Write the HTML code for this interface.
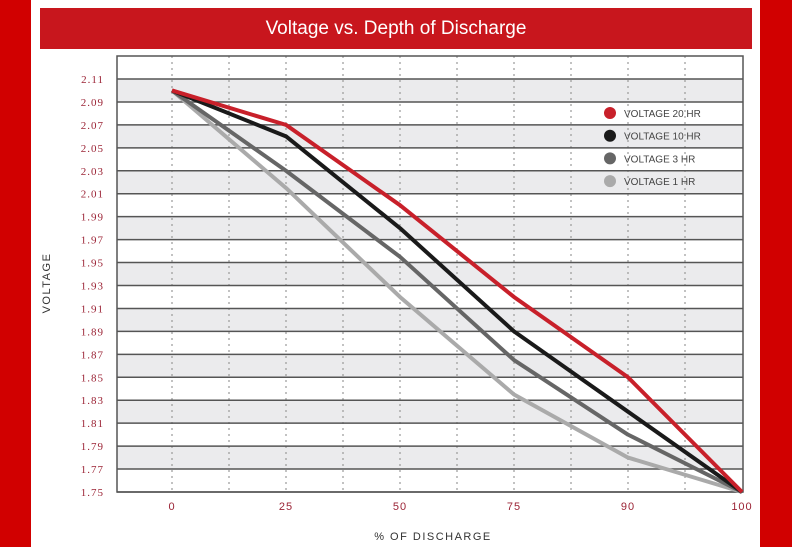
<!DOCTYPE html>
<html><head><meta charset="utf-8"><style>
html,body{margin:0;padding:0}
body{width:792px;height:547px;background:#fff;position:relative;overflow:hidden;font-family:"Liberation Sans",sans-serif}
</style></head><body>
<div style="position:absolute;left:0;top:0;width:31px;height:547px;background:#d10000"></div>
<div style="position:absolute;left:760px;top:0;width:32px;height:547px;background:#d10000"></div>
<div style="position:absolute;left:40px;top:8px;width:712px;height:41px;background:#c8161d;color:#fff;font-size:19px;line-height:41px;text-align:center">Voltage vs. Depth of Discharge</div>
<svg id="chart" width="792" height="547" style="position:absolute;left:0;top:0"></svg>
<script>
const categories=["0","25","50","75","90","100"];
const yTicks=["2.11","2.09","2.07","2.05","2.03","2.01","1.99","1.97","1.95","1.93","1.91","1.89","1.87","1.85","1.83","1.81","1.79","1.77","1.75"];
const seriesNames=["VOLTAGE 20 HR","VOLTAGE 10 HR","VOLTAGE 3 HR","VOLTAGE 1 HR"];
const v20=[2.10,2.07,2.00,1.92,1.85,1.75];
const v10=[2.10,2.06,1.98,1.89,1.82,1.75];
const v3=[2.10,2.03,1.955,1.865,1.80,1.75];
const v1=[2.10,2.015,1.92,1.835,1.78,1.75];
const colors=["#c8202a","#1a1a1a","#666666","#aaaaaa"];
const NS="http://www.w3.org/2000/svg";
const svg=document.getElementById('chart');
function mk(t,a,p){const e=document.createElementNS(NS,t);for(const k in a)e.setAttribute(k,a[k]);(p||svg).appendChild(e);return e;}
const L=117,R=743,T=56,B=492,yMin=1.75,yMax=2.11,yTop=79;
const x=i=>172+i*(742-172)/(categories.length-1);
const y=v=>B-(v-yMin)/(yMax-yMin)*(B-yTop);
// bands
for(let i=0;i<yTicks.length-1;i++){
  if(i%2===0){const r=mk('rect',{x:L,y:y(+yTicks[i]),width:R-L,height:y(+yTicks[i+1])-y(+yTicks[i]),fill:'#ebebed'});
  }
}
// vertical dotted
for(let k=0;k<=2*(categories.length-1)-1;k++){
  const xx=x(0)+k*(x(1)-x(0))/2;
  const l=mk('line',{x1:xx,x2:xx,y1:T,y2:B,stroke:'#999','stroke-width':1.2,'stroke-dasharray':'2,4'});
  
}
// horizontal lines + labels
yTicks.forEach(t=>{
  const yy=y(+t);
  const l=mk('line',{x1:L,x2:R,y1:yy,y2:yy,stroke:'#555','stroke-width':1.5});
  
  const tx=mk('text',{x:104,y:yy+4,'text-anchor':'end','font-size':11,fill:'#9b2335','font-family':'Liberation Serif, serif','letter-spacing':'1'});
  tx.textContent=t;
});
const fr=mk('rect',{x:L,y:T,width:R-L,height:B-T,fill:'none',stroke:'#555','stroke-width':1.5});

categories.forEach((c,i)=>{
  const tx=mk('text',{x:x(i),y:510,'text-anchor':'middle','font-size':11,fill:'#9b2335','letter-spacing':'1'});
  tx.textContent=c;
});
[v1,v3,v10,v20].forEach((s,j)=>{
  const ci=3-j;
  const p=mk('polyline',{points:s.map((v,i)=>x(i)+','+y(v)).join(' '),fill:'none',stroke:colors[ci],'stroke-width':4,'stroke-linejoin':'round'});
  
});
seriesNames.forEach((n,i)=>{
  const g=mk('g',{});
  const yy=113+i*22.7;
  mk('circle',{cx:610,cy:yy,r:6,fill:colors[i]},g);
  const t=mk('text',{x:624,y:yy+4,'font-size':10,fill:'#444'},g);t.textContent=n;
});
const yt=mk('text',{x:50,y:283,'text-anchor':'middle','font-size':11,fill:'#333','letter-spacing':'1.5',transform:'rotate(-90 50 283)'});
yt.textContent='VOLTAGE';
const xt=mk('text',{x:433,y:540,'text-anchor':'middle','font-size':11,fill:'#333','letter-spacing':'1.5'});
xt.textContent='% OF DISCHARGE';
</script>
</body></html>
